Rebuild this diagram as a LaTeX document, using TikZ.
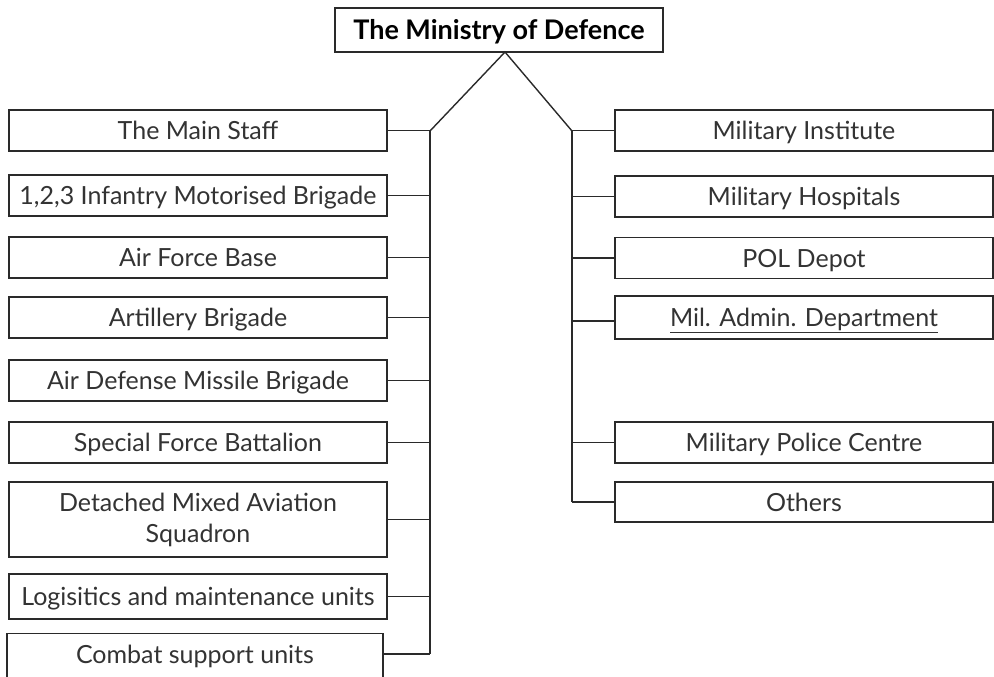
\documentclass[tikz,border=0pt]{standalone}
\usepackage{fontspec}
\setmainfont{Lato}
\begin{document}
\begin{tikzpicture}[x=1pt,y=-1pt,
  box/.style={draw=linec, line width=1.4pt, rectangle, minimum width=378pt, minimum height=41pt, inner sep=0pt, text=textc, font=\fontsize{25}{30}\selectfont, text height=18pt, text depth=0pt},
  conn/.style={draw=linec, line width=1.4pt},
  lbl/.style={text=textc, font=\fontsize{25}{30}\selectfont, inner sep=0pt, text height=18pt, text depth=0pt}]
\definecolor{linec}{HTML}{2A2A2A}
\definecolor{textc}{HTML}{333333}
\useasboundingbox (0,0) rectangle (994,677);
% top
\node[draw=linec, line width=1.4pt, minimum width=328pt, minimum height=44pt, inner sep=0pt, font=\fontsize{27}{30}\selectfont\bfseries, text=black, text height=19pt, text depth=0pt] (top) at (499,30) {The Ministry of Defence};
\coordinate (apex) at (505,52);
\coordinate (L) at (430,131);
\coordinate (R) at (572,131);
% left boxes
\node[box] (ms)  at (198,130.5) {The Main Staff};
\node[box] (inf) at (198,195.5) {1,2,3 Infantry Motorised Brigade};
\node[box] (afb) at (198,257.5) {Air Force Base};
\node[box] (art) at (198,317.5) {Artillery Brigade};
\node[box] (adm) at (198,380.5) {Air Defense Missile Brigade};
\node[box] (sfb) at (198,442.5) {Special Force Battalion};
\node[box, minimum height=75pt, text height=, text depth=, align=center, font=\fontsize{25}{31}\selectfont] (dma) at (198,519.5) {Detached Mixed Aviation\\Squadron};
\node[box, minimum height=45pt] (log) at (198,596.5) {Logisitics and maintenance units};
\node[box, minimum width=376pt, minimum height=48pt, anchor=north] (csb) at (195,633) {};
\node[lbl] (cst) at (195,654) {Combat support units};
% right boxes
\node[box] (mi)  at (804,130.5) {Military Institute};
\node[box] (mh)  at (804,196.5) {Military Hospitals};
\node[box] (pol) at (804,258) {POL Depot};
\node[box, minimum height=43pt] (mad) at (804,317.5) {\underline{Mil. Admin. Department}};
\node[box] (mpc) at (804,442.5) {Military Police Centre};
\node[box, minimum height=40pt] (oth) at (804,502) {Others};
% connectors
\draw[conn] (L) -- (apex) -- (R);
\draw[conn] (L) -- (L |- cst);
\draw[conn] (R) -- (R |- oth);
\foreach \n in {ms,inf,afb,art,adm,sfb,dma,log}{
  \draw[conn] (\n.east) -- (\n.east -| L);
}
\draw[conn] (cst -| csb.east) -- (cst -| L);
\foreach \n in {mi,mh,pol,mpc,oth}{
  \draw[conn] (\n.west) -- (\n.west -| R);
}
\draw[conn] (mad.west |- 0,321) -- (R |- 0,321);
\end{tikzpicture}
\end{document}
